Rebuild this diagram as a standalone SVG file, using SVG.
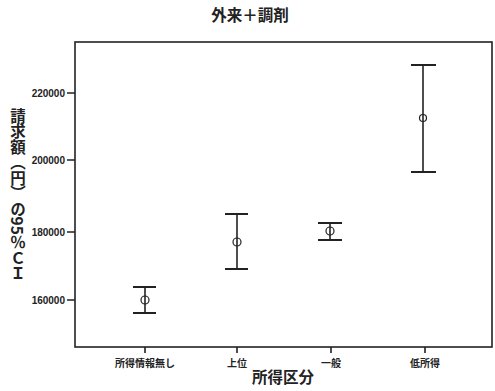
<svg xmlns="http://www.w3.org/2000/svg" width="495" height="391" viewBox="0 0 495 391">
<style>
.t{font-family:"Noto Sans CJK JP","Liberation Sans",sans-serif;fill:#222;font-weight:bold}
.tick{font-family:"Liberation Sans","DejaVu Sans",sans-serif;font-size:10px;fill:#222;text-anchor:end;font-weight:bold}
.cat{font-family:"Noto Sans CJK JP",sans-serif;font-size:10px;fill:#222;text-anchor:middle;font-weight:bold}
.ax{stroke:#222;stroke-width:1.6;fill:none}
.bar{stroke:#222;stroke-width:1.6;fill:none}
.cap{stroke:#222;stroke-width:2.2;fill:none}
.pt{stroke:#222;stroke-width:1.2;fill:none}
</style>
<rect width="495" height="391" fill="#fff"/>
<text class="t" x="250" y="21" font-size="15.5" text-anchor="middle">外来＋調剤</text>
<g id="frame">
<rect class="ax" x="75" y="42" width="417" height="305"/>
<path class="ax" d="M67 93H75M67 160H75M67 232H75M67 300H75M145 347V353M237 347V353M331 347V353M425 347V353"/>
</g>
<g id="yticks">
<text class="tick" x="65" y="97">220000</text>
<text class="tick" x="65" y="164">200000</text>
<text class="tick" x="65" y="236">180000</text>
<text class="tick" x="65" y="304">160000</text>
</g>
<text class="t" x="18" y="108" font-size="15.5" style="writing-mode:vertical-rl;text-orientation:mixed">請求額（円）の95％ＣＩ</text>
<g id="xcats">
<text class="cat" x="145" y="367">所得情報無し</text>
<text class="cat" x="237" y="367">上位</text>
<text class="cat" x="331" y="367">一般</text>
<text class="cat" x="425" y="367">低所得</text>
</g>
<text class="t" x="283" y="383" font-size="15.5" text-anchor="middle">所得区分</text>
<g id="connectors">
<g id="bar1"><path class="bar" d="M145 287V313"/><path class="cap" d="M133 287H156M133 313H156"/><circle class="pt" cx="145" cy="300" r="4"/></g>
<g id="bar2"><path class="bar" d="M237 214V269"/><path class="cap" d="M225 214H248M225 269H248"/><circle class="pt" cx="237" cy="242" r="4"/></g>
<g id="bar3"><path class="bar" d="M330 223V240"/><path class="cap" d="M318 223H342M318 240H342"/><circle class="pt" cx="330" cy="231" r="4"/></g>
<g id="bar4"><path class="bar" d="M423 65V172"/><path class="cap" d="M411 65H436M411 172H436"/><circle class="pt" cx="423" cy="118" r="3.5"/></g>
</g>
</svg>
